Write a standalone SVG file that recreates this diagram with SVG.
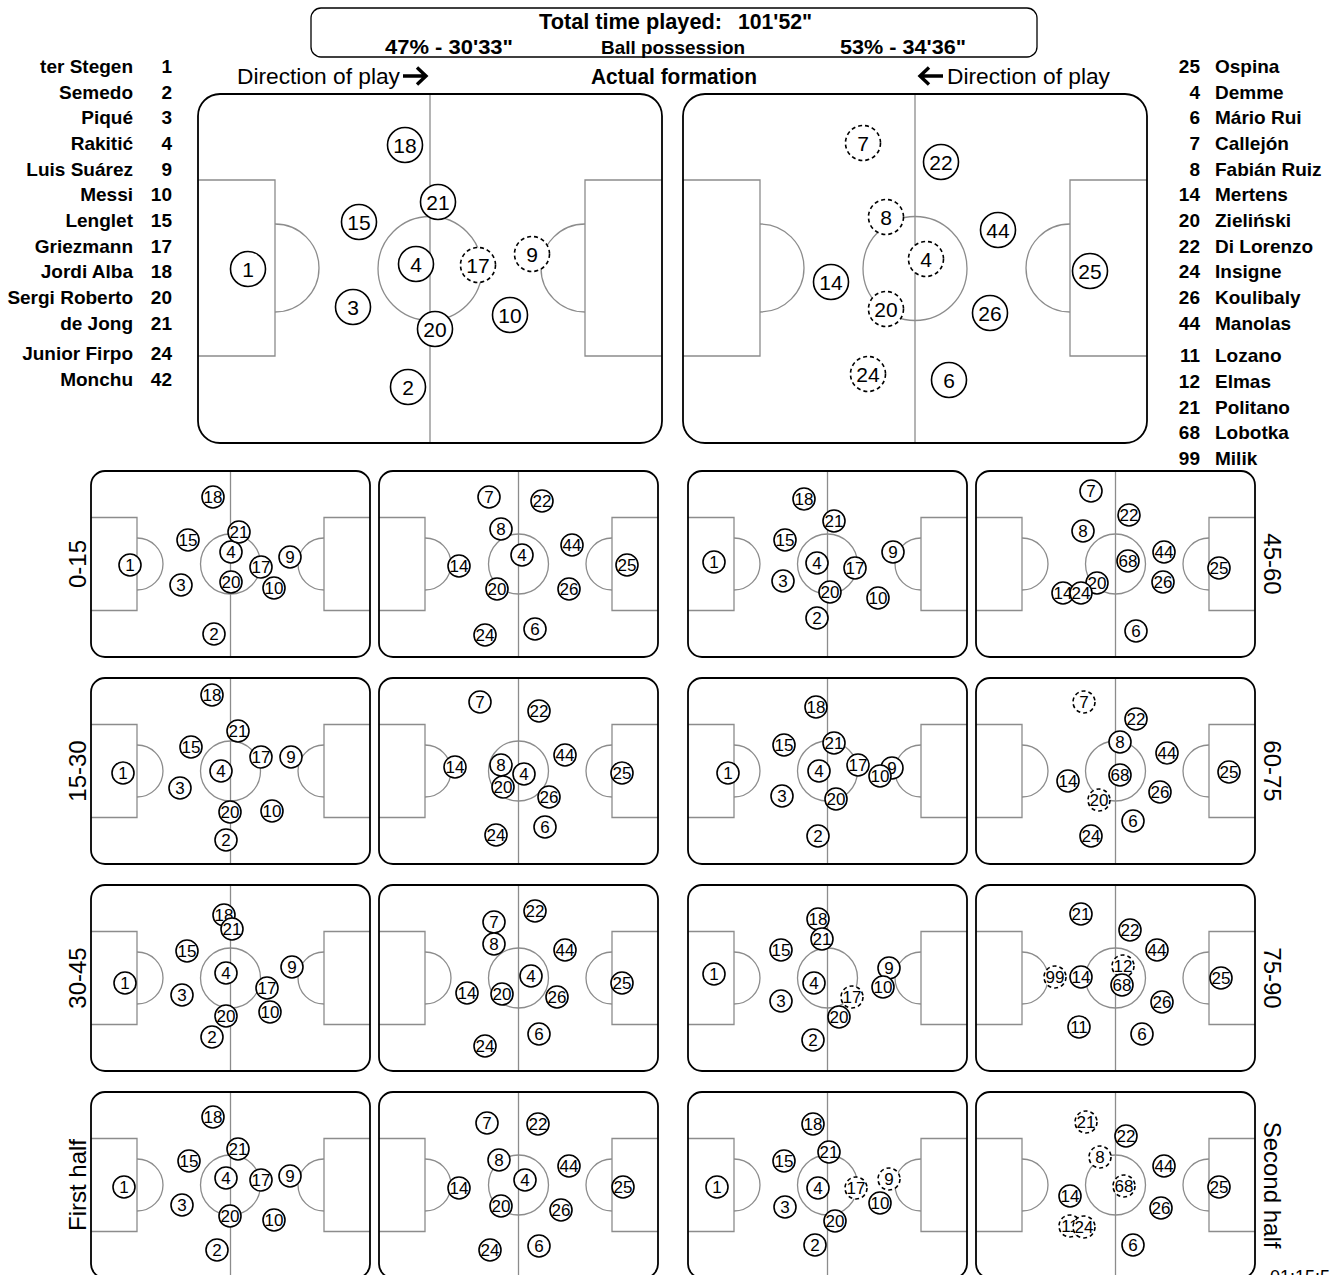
<svg xmlns="http://www.w3.org/2000/svg" xmlns:xlink="http://www.w3.org/1999/xlink" width="1338" height="1275" viewBox="0 0 1338 1275">
<style>
text{font-family:"Liberation Sans",Arial,sans-serif;fill:#000}
.ln{fill:none;stroke:#8c8c8c;stroke-width:1.3}
.border{fill:none;stroke:#000;stroke-width:1.8}
.pl{fill:#fff;stroke:#000;stroke-width:1.6}
.d{stroke-dasharray:4 3}
.nb{font-size:21px;text-anchor:middle}
.ns{font-size:17px;text-anchor:middle}
.lst{font-size:19px;font-weight:bold}
.end{text-anchor:end}
.hd{font-weight:bold}
.rot{font-size:24px;text-anchor:middle}
.arr{fill:none;stroke:#000;stroke-width:3.4}
</style>
<defs>
<g id="bigPitch">
<rect width="464" height="349" rx="22" fill="#fff"/>
<line x1="232" y1="0" x2="232" y2="349" class="ln"/>
<circle cx="232" cy="174.5" r="52" class="ln"/>
<path class="ln" d="M0,86H77V262H0M464,86H387V262H464"/>
<path class="ln" d="M77,130A44,44 0 0 1 77,218M387,130A44,44 0 0 0 387,218"/>
<rect width="464" height="349" rx="22" class="border"/>
</g>
<g id="smallPitch">
<rect width="279" height="186" rx="14" fill="#fff"/>
<line x1="139.5" y1="0" x2="139.5" y2="186" class="ln"/>
<circle cx="139.5" cy="93" r="30" class="ln"/>
<path class="ln" d="M0,46.5H46V139.5H0M279,46.5H233V139.5H279"/>
<path class="ln" d="M46,67A26,26 0 0 1 46,119M233,67A26,26 0 0 0 233,119"/>
<rect width="279" height="186" rx="14" class="border"/>
</g>
</defs>
<rect width="1338" height="1275" fill="#fff"/>

<g id="header">
<rect x="311" y="8" width="726" height="49" rx="10" fill="#fff" stroke="#000" stroke-width="1.3"/>
<text class="hd" x="539" y="29" font-size="22" textLength="183" lengthAdjust="spacingAndGlyphs">Total time played:</text>
<text class="hd" x="738" y="29" font-size="22" textLength="74" lengthAdjust="spacingAndGlyphs">101'52"</text>
<text class="hd" x="385" y="54" font-size="21" textLength="128" lengthAdjust="spacingAndGlyphs">47% - 30'33"</text>
<text class="hd" x="601" y="54" font-size="19" textLength="144" lengthAdjust="spacingAndGlyphs">Ball possession</text>
<text class="hd" x="840" y="54" font-size="21" textLength="126" lengthAdjust="spacingAndGlyphs">53% - 34'36"</text>
</g>

<g id="titles">
<text x="237" y="84" font-size="22" textLength="163" lengthAdjust="spacingAndGlyphs">Direction of play</text>
<path class="arr" d="M403,76H425M417,67.5L426,76L417,84.5"/>
<text class="hd" x="591" y="84" font-size="22" textLength="166" lengthAdjust="spacingAndGlyphs">Actual formation</text>
<path class="arr" d="M943,76H921M929,67.5L920,76L929,84.5"/>
<text x="947" y="84" font-size="22" textLength="163" lengthAdjust="spacingAndGlyphs">Direction of play</text>
</g>

<g id="list-left" class="lst">
<text class="end" x="133" y="73">ter Stegen</text><text class="end" x="172" y="73">1</text>
<text class="end" x="133" y="98.7">Semedo</text><text class="end" x="172" y="98.7">2</text>
<text class="end" x="133" y="124.4">Piqué</text><text class="end" x="172" y="124.4">3</text>
<text class="end" x="133" y="150">Rakitić</text><text class="end" x="172" y="150">4</text>
<text class="end" x="133" y="175.7">Luis Suárez</text><text class="end" x="172" y="175.7">9</text>
<text class="end" x="133" y="201.4">Messi</text><text class="end" x="172" y="201.4">10</text>
<text class="end" x="133" y="227">Lenglet</text><text class="end" x="172" y="227">15</text>
<text class="end" x="133" y="252.7">Griezmann</text><text class="end" x="172" y="252.7">17</text>
<text class="end" x="133" y="278.4">Jordi Alba</text><text class="end" x="172" y="278.4">18</text>
<text class="end" x="133" y="304">Sergi Roberto</text><text class="end" x="172" y="304">20</text>
<text class="end" x="133" y="329.8">de Jong</text><text class="end" x="172" y="329.8">21</text>
<text class="end" x="133" y="360">Junior Firpo</text><text class="end" x="172" y="360">24</text>
<text class="end" x="133" y="386">Monchu</text><text class="end" x="172" y="386">42</text>
</g>

<g id="list-right" class="lst">
<text class="end" x="1200" y="73">25</text><text x="1215" y="73">Ospina</text>
<text class="end" x="1200" y="98.7">4</text><text x="1215" y="98.7">Demme</text>
<text class="end" x="1200" y="124.4">6</text><text x="1215" y="124.4">Mário Rui</text>
<text class="end" x="1200" y="150">7</text><text x="1215" y="150">Callejón</text>
<text class="end" x="1200" y="175.7">8</text><text x="1215" y="175.7">Fabián Ruiz</text>
<text class="end" x="1200" y="201.4">14</text><text x="1215" y="201.4">Mertens</text>
<text class="end" x="1200" y="227">20</text><text x="1215" y="227">Zieliński</text>
<text class="end" x="1200" y="252.7">22</text><text x="1215" y="252.7">Di Lorenzo</text>
<text class="end" x="1200" y="278.4">24</text><text x="1215" y="278.4">Insigne</text>
<text class="end" x="1200" y="304">26</text><text x="1215" y="304">Koulibaly</text>
<text class="end" x="1200" y="329.8">44</text><text x="1215" y="329.8">Manolas</text>
<text class="end" x="1200" y="362">11</text><text x="1215" y="362">Lozano</text>
<text class="end" x="1200" y="388">12</text><text x="1215" y="388">Elmas</text>
<text class="end" x="1200" y="414">21</text><text x="1215" y="414">Politano</text>
<text class="end" x="1200" y="439">68</text><text x="1215" y="439">Lobotka</text>
<text class="end" x="1200" y="465">99</text><text x="1215" y="465">Milik</text>
</g>

<g id="side-labels">
<text class="rot" transform="translate(86,564) rotate(-90)">0-15</text>
<text class="rot" transform="translate(86,771) rotate(-90)">15-30</text>
<text class="rot" transform="translate(86,978) rotate(-90)">30-45</text>
<text class="rot" transform="translate(86,1185) rotate(-90)">First half</text>
<text class="rot" transform="translate(1264,564) rotate(90)">45-60</text>
<text class="rot" transform="translate(1264,771) rotate(90)">60-75</text>
<text class="rot" transform="translate(1264,978) rotate(90)">75-90</text>
<text class="rot" transform="translate(1264,1185) rotate(90)" font-size="25">Second half</text>
<text x="1270" y="1283" font-size="18">01:15:5</text>
</g>

<g id="big-left">
<use xlink:href="#bigPitch" x="198" y="94"/>
<g id="BL-1"><circle class="pl" cx="248" cy="269" r="17.5"/><text class="nb" x="248" y="276.5">1</text></g>
<g id="BL-2"><circle class="pl" cx="408" cy="387" r="17.5"/><text class="nb" x="408" y="394.5">2</text></g>
<g id="BL-3"><circle class="pl" cx="353" cy="307" r="17.5"/><text class="nb" x="353" y="314.5">3</text></g>
<g id="BL-4"><circle class="pl" cx="416" cy="264" r="17.5"/><text class="nb" x="416" y="271.5">4</text></g>
<g id="BL-9"><circle class="pl d" cx="532" cy="254" r="17.5"/><text class="nb" x="532" y="261.5">9</text></g>
<g id="BL-10"><circle class="pl" cx="510" cy="315" r="17.5"/><text class="nb" x="510" y="322.5">10</text></g>
<g id="BL-15"><circle class="pl" cx="359" cy="222" r="17.5"/><text class="nb" x="359" y="229.5">15</text></g>
<g id="BL-17"><circle class="pl d" cx="478" cy="265" r="17.5"/><text class="nb" x="478" y="272.5">17</text></g>
<g id="BL-18"><circle class="pl" cx="405" cy="145" r="17.5"/><text class="nb" x="405" y="152.5">18</text></g>
<g id="BL-20"><circle class="pl" cx="435" cy="329" r="17.5"/><text class="nb" x="435" y="336.5">20</text></g>
<g id="BL-21"><circle class="pl" cx="438" cy="202" r="17.5"/><text class="nb" x="438" y="209.5">21</text></g>
</g>

<g id="big-right">
<use xlink:href="#bigPitch" x="683" y="94"/>
<g id="BR-4"><circle class="pl d" cx="926" cy="259" r="17.5"/><text class="nb" x="926" y="266.5">4</text></g>
<g id="BR-6"><circle class="pl" cx="949" cy="380" r="17.5"/><text class="nb" x="949" y="387.5">6</text></g>
<g id="BR-7"><circle class="pl d" cx="863" cy="143" r="17.5"/><text class="nb" x="863" y="150.5">7</text></g>
<g id="BR-8"><circle class="pl d" cx="886" cy="217" r="17.5"/><text class="nb" x="886" y="224.5">8</text></g>
<g id="BR-14"><circle class="pl" cx="831" cy="282" r="17.5"/><text class="nb" x="831" y="289.5">14</text></g>
<g id="BR-20"><circle class="pl d" cx="886" cy="309" r="17.5"/><text class="nb" x="886" y="316.5">20</text></g>
<g id="BR-22"><circle class="pl" cx="941" cy="162" r="17.5"/><text class="nb" x="941" y="169.5">22</text></g>
<g id="BR-24"><circle class="pl d" cx="868" cy="374" r="17.5"/><text class="nb" x="868" y="381.5">24</text></g>
<g id="BR-25"><circle class="pl" cx="1090" cy="271" r="17.5"/><text class="nb" x="1090" y="278.5">25</text></g>
<g id="BR-26"><circle class="pl" cx="990" cy="313" r="17.5"/><text class="nb" x="990" y="320.5">26</text></g>
<g id="BR-44"><circle class="pl" cx="998" cy="230" r="17.5"/><text class="nb" x="998" y="237.5">44</text></g>
</g>

<g id="r1a">
<use xlink:href="#smallPitch" x="91" y="471"/>
<g id="r1a-1"><circle class="pl" cx="130" cy="565" r="11"/><text class="ns" x="130" y="571">1</text></g>
<g id="r1a-2"><circle class="pl" cx="214" cy="634" r="11"/><text class="ns" x="214" y="640">2</text></g>
<g id="r1a-3"><circle class="pl" cx="181" cy="585" r="11"/><text class="ns" x="181" y="591">3</text></g>
<g id="r1a-4"><circle class="pl" cx="231" cy="552" r="11"/><text class="ns" x="231" y="558">4</text></g>
<g id="r1a-9"><circle class="pl" cx="290" cy="557" r="11"/><text class="ns" x="290" y="563">9</text></g>
<g id="r1a-10"><circle class="pl" cx="274" cy="588" r="11"/><text class="ns" x="274" y="594">10</text></g>
<g id="r1a-15"><circle class="pl" cx="188" cy="540" r="11"/><text class="ns" x="188" y="546">15</text></g>
<g id="r1a-17"><circle class="pl" cx="261" cy="567" r="11"/><text class="ns" x="261" y="573">17</text></g>
<g id="r1a-18"><circle class="pl" cx="213" cy="497" r="11"/><text class="ns" x="213" y="503">18</text></g>
<g id="r1a-20"><circle class="pl" cx="231" cy="582" r="11"/><text class="ns" x="231" y="588">20</text></g>
<g id="r1a-21"><circle class="pl" cx="239" cy="532" r="11"/><text class="ns" x="239" y="538">21</text></g>
</g>

<g id="r1b">
<use xlink:href="#smallPitch" x="379" y="471"/>
<g id="r1b-4"><circle class="pl" cx="522" cy="555" r="11"/><text class="ns" x="522" y="561">4</text></g>
<g id="r1b-6"><circle class="pl" cx="535" cy="629" r="11"/><text class="ns" x="535" y="635">6</text></g>
<g id="r1b-7"><circle class="pl" cx="489" cy="497" r="11"/><text class="ns" x="489" y="503">7</text></g>
<g id="r1b-8"><circle class="pl" cx="501" cy="529" r="11"/><text class="ns" x="501" y="535">8</text></g>
<g id="r1b-14"><circle class="pl" cx="459" cy="566" r="11"/><text class="ns" x="459" y="572">14</text></g>
<g id="r1b-20"><circle class="pl" cx="497" cy="589" r="11"/><text class="ns" x="497" y="595">20</text></g>
<g id="r1b-22"><circle class="pl" cx="542" cy="501" r="11"/><text class="ns" x="542" y="507">22</text></g>
<g id="r1b-24"><circle class="pl" cx="485" cy="635" r="11"/><text class="ns" x="485" y="641">24</text></g>
<g id="r1b-25"><circle class="pl" cx="627" cy="565" r="11"/><text class="ns" x="627" y="571">25</text></g>
<g id="r1b-26"><circle class="pl" cx="569" cy="589" r="11"/><text class="ns" x="569" y="595">26</text></g>
<g id="r1b-44"><circle class="pl" cx="572" cy="545" r="11"/><text class="ns" x="572" y="551">44</text></g>
</g>

<g id="r1c">
<use xlink:href="#smallPitch" x="688" y="471"/>
<g id="r1c-1"><circle class="pl" cx="714" cy="562" r="11"/><text class="ns" x="714" y="568">1</text></g>
<g id="r1c-2"><circle class="pl" cx="817" cy="618" r="11"/><text class="ns" x="817" y="624">2</text></g>
<g id="r1c-3"><circle class="pl" cx="783" cy="581" r="11"/><text class="ns" x="783" y="587">3</text></g>
<g id="r1c-4"><circle class="pl" cx="817" cy="563" r="11"/><text class="ns" x="817" y="569">4</text></g>
<g id="r1c-9"><circle class="pl" cx="893" cy="552" r="11"/><text class="ns" x="893" y="558">9</text></g>
<g id="r1c-10"><circle class="pl" cx="878" cy="598" r="11"/><text class="ns" x="878" y="604">10</text></g>
<g id="r1c-15"><circle class="pl" cx="785" cy="540" r="11"/><text class="ns" x="785" y="546">15</text></g>
<g id="r1c-17"><circle class="pl" cx="855" cy="568" r="11"/><text class="ns" x="855" y="574">17</text></g>
<g id="r1c-18"><circle class="pl" cx="804" cy="499" r="11"/><text class="ns" x="804" y="505">18</text></g>
<g id="r1c-20"><circle class="pl" cx="830" cy="592" r="11"/><text class="ns" x="830" y="598">20</text></g>
<g id="r1c-21"><circle class="pl" cx="834" cy="521" r="11"/><text class="ns" x="834" y="527">21</text></g>
</g>

<g id="r1d">
<use xlink:href="#smallPitch" x="976" y="471"/>
<g id="r1d-6"><circle class="pl" cx="1136" cy="631" r="11"/><text class="ns" x="1136" y="637">6</text></g>
<g id="r1d-7"><circle class="pl" cx="1091" cy="491" r="11"/><text class="ns" x="1091" y="497">7</text></g>
<g id="r1d-8"><circle class="pl" cx="1083" cy="531" r="11"/><text class="ns" x="1083" y="537">8</text></g>
<g id="r1d-14"><circle class="pl" cx="1063" cy="593" r="11"/><text class="ns" x="1063" y="599">14</text></g>
<g id="r1d-20"><circle class="pl" cx="1097" cy="583" r="11"/><text class="ns" x="1097" y="589">20</text></g>
<g id="r1d-22"><circle class="pl" cx="1129" cy="515" r="11"/><text class="ns" x="1129" y="521">22</text></g>
<g id="r1d-24"><circle class="pl" cx="1081" cy="593" r="11"/><text class="ns" x="1081" y="599">24</text></g>
<g id="r1d-25"><circle class="pl" cx="1219" cy="568" r="11"/><text class="ns" x="1219" y="574">25</text></g>
<g id="r1d-26"><circle class="pl" cx="1163" cy="582" r="11"/><text class="ns" x="1163" y="588">26</text></g>
<g id="r1d-44"><circle class="pl" cx="1164" cy="552" r="11"/><text class="ns" x="1164" y="558">44</text></g>
<g id="r1d-68"><circle class="pl" cx="1128" cy="561" r="11"/><text class="ns" x="1128" y="567">68</text></g>
</g>

<g id="r2a">
<use xlink:href="#smallPitch" x="91" y="678"/>
<g id="r2a-1"><circle class="pl" cx="123" cy="773" r="11"/><text class="ns" x="123" y="779">1</text></g>
<g id="r2a-2"><circle class="pl" cx="226" cy="840" r="11"/><text class="ns" x="226" y="846">2</text></g>
<g id="r2a-3"><circle class="pl" cx="180" cy="788" r="11"/><text class="ns" x="180" y="794">3</text></g>
<g id="r2a-4"><circle class="pl" cx="221" cy="771" r="11"/><text class="ns" x="221" y="777">4</text></g>
<g id="r2a-9"><circle class="pl" cx="291" cy="757" r="11"/><text class="ns" x="291" y="763">9</text></g>
<g id="r2a-10"><circle class="pl" cx="272" cy="811" r="11"/><text class="ns" x="272" y="817">10</text></g>
<g id="r2a-15"><circle class="pl" cx="191" cy="747" r="11"/><text class="ns" x="191" y="753">15</text></g>
<g id="r2a-17"><circle class="pl" cx="261" cy="757" r="11"/><text class="ns" x="261" y="763">17</text></g>
<g id="r2a-18"><circle class="pl" cx="212" cy="695" r="11"/><text class="ns" x="212" y="701">18</text></g>
<g id="r2a-20"><circle class="pl" cx="230" cy="812" r="11"/><text class="ns" x="230" y="818">20</text></g>
<g id="r2a-21"><circle class="pl" cx="238" cy="731" r="11"/><text class="ns" x="238" y="737">21</text></g>
</g>

<g id="r2b">
<use xlink:href="#smallPitch" x="379" y="678"/>
<g id="r2b-4"><circle class="pl" cx="524" cy="774" r="11"/><text class="ns" x="524" y="780">4</text></g>
<g id="r2b-6"><circle class="pl" cx="545" cy="827" r="11"/><text class="ns" x="545" y="833">6</text></g>
<g id="r2b-7"><circle class="pl" cx="480" cy="702" r="11"/><text class="ns" x="480" y="708">7</text></g>
<g id="r2b-8"><circle class="pl" cx="501" cy="765" r="11"/><text class="ns" x="501" y="771">8</text></g>
<g id="r2b-14"><circle class="pl" cx="455" cy="767" r="11"/><text class="ns" x="455" y="773">14</text></g>
<g id="r2b-20"><circle class="pl" cx="503" cy="787" r="11"/><text class="ns" x="503" y="793">20</text></g>
<g id="r2b-22"><circle class="pl" cx="539" cy="711" r="11"/><text class="ns" x="539" y="717">22</text></g>
<g id="r2b-24"><circle class="pl" cx="496" cy="835" r="11"/><text class="ns" x="496" y="841">24</text></g>
<g id="r2b-25"><circle class="pl" cx="622" cy="773" r="11"/><text class="ns" x="622" y="779">25</text></g>
<g id="r2b-26"><circle class="pl" cx="549" cy="797" r="11"/><text class="ns" x="549" y="803">26</text></g>
<g id="r2b-44"><circle class="pl" cx="565" cy="755" r="11"/><text class="ns" x="565" y="761">44</text></g>
</g>

<g id="r2c">
<use xlink:href="#smallPitch" x="688" y="678"/>
<g id="r2c-1"><circle class="pl" cx="728" cy="773" r="11"/><text class="ns" x="728" y="779">1</text></g>
<g id="r2c-2"><circle class="pl" cx="818" cy="836" r="11"/><text class="ns" x="818" y="842">2</text></g>
<g id="r2c-3"><circle class="pl" cx="782" cy="796" r="11"/><text class="ns" x="782" y="802">3</text></g>
<g id="r2c-4"><circle class="pl" cx="819" cy="771" r="11"/><text class="ns" x="819" y="777">4</text></g>
<g id="r2c-9"><circle class="pl" cx="892" cy="768" r="11"/><text class="ns" x="892" y="774">9</text></g>
<g id="r2c-10"><circle class="pl" cx="880" cy="776" r="11"/><text class="ns" x="880" y="782">10</text></g>
<g id="r2c-15"><circle class="pl" cx="784" cy="745" r="11"/><text class="ns" x="784" y="751">15</text></g>
<g id="r2c-17"><circle class="pl" cx="858" cy="765" r="11"/><text class="ns" x="858" y="771">17</text></g>
<g id="r2c-18"><circle class="pl" cx="816" cy="707" r="11"/><text class="ns" x="816" y="713">18</text></g>
<g id="r2c-20"><circle class="pl" cx="836" cy="799" r="11"/><text class="ns" x="836" y="805">20</text></g>
<g id="r2c-21"><circle class="pl" cx="834" cy="743" r="11"/><text class="ns" x="834" y="749">21</text></g>
</g>

<g id="r2d">
<use xlink:href="#smallPitch" x="976" y="678"/>
<g id="r2d-6"><circle class="pl" cx="1133" cy="821" r="11"/><text class="ns" x="1133" y="827">6</text></g>
<g id="r2d-7"><circle class="pl d" cx="1084" cy="702" r="11"/><text class="ns" x="1084" y="708">7</text></g>
<g id="r2d-8"><circle class="pl" cx="1120" cy="742" r="11"/><text class="ns" x="1120" y="748">8</text></g>
<g id="r2d-14"><circle class="pl" cx="1068" cy="781" r="11"/><text class="ns" x="1068" y="787">14</text></g>
<g id="r2d-20"><circle class="pl d" cx="1099" cy="800" r="11"/><text class="ns" x="1099" y="806">20</text></g>
<g id="r2d-22"><circle class="pl" cx="1136" cy="719" r="11"/><text class="ns" x="1136" y="725">22</text></g>
<g id="r2d-24"><circle class="pl" cx="1091" cy="836" r="11"/><text class="ns" x="1091" y="842">24</text></g>
<g id="r2d-25"><circle class="pl" cx="1229" cy="772" r="11"/><text class="ns" x="1229" y="778">25</text></g>
<g id="r2d-26"><circle class="pl" cx="1160" cy="792" r="11"/><text class="ns" x="1160" y="798">26</text></g>
<g id="r2d-44"><circle class="pl" cx="1167" cy="753" r="11"/><text class="ns" x="1167" y="759">44</text></g>
<g id="r2d-68"><circle class="pl" cx="1120" cy="775" r="11"/><text class="ns" x="1120" y="781">68</text></g>
</g>

<g id="r3a">
<use xlink:href="#smallPitch" x="91" y="885"/>
<g id="r3a-1"><circle class="pl" cx="125" cy="983" r="11"/><text class="ns" x="125" y="989">1</text></g>
<g id="r3a-2"><circle class="pl" cx="212" cy="1037" r="11"/><text class="ns" x="212" y="1043">2</text></g>
<g id="r3a-3"><circle class="pl" cx="182" cy="995" r="11"/><text class="ns" x="182" y="1001">3</text></g>
<g id="r3a-4"><circle class="pl" cx="226" cy="973" r="11"/><text class="ns" x="226" y="979">4</text></g>
<g id="r3a-9"><circle class="pl" cx="292" cy="967" r="11"/><text class="ns" x="292" y="973">9</text></g>
<g id="r3a-10"><circle class="pl" cx="270" cy="1012" r="11"/><text class="ns" x="270" y="1018">10</text></g>
<g id="r3a-15"><circle class="pl" cx="187" cy="951" r="11"/><text class="ns" x="187" y="957">15</text></g>
<g id="r3a-17"><circle class="pl" cx="267" cy="988" r="11"/><text class="ns" x="267" y="994">17</text></g>
<g id="r3a-18"><circle class="pl" cx="224" cy="915" r="11"/><text class="ns" x="224" y="921">18</text></g>
<g id="r3a-20"><circle class="pl" cx="226" cy="1016" r="11"/><text class="ns" x="226" y="1022">20</text></g>
<g id="r3a-21"><circle class="pl" cx="232" cy="929" r="11"/><text class="ns" x="232" y="935">21</text></g>
</g>

<g id="r3b">
<use xlink:href="#smallPitch" x="379" y="885"/>
<g id="r3b-4"><circle class="pl" cx="531" cy="976" r="11"/><text class="ns" x="531" y="982">4</text></g>
<g id="r3b-6"><circle class="pl" cx="539" cy="1034" r="11"/><text class="ns" x="539" y="1040">6</text></g>
<g id="r3b-7"><circle class="pl" cx="494" cy="922" r="11"/><text class="ns" x="494" y="928">7</text></g>
<g id="r3b-8"><circle class="pl" cx="494" cy="944" r="11"/><text class="ns" x="494" y="950">8</text></g>
<g id="r3b-14"><circle class="pl" cx="467" cy="993" r="11"/><text class="ns" x="467" y="999">14</text></g>
<g id="r3b-20"><circle class="pl" cx="502" cy="994" r="11"/><text class="ns" x="502" y="1000">20</text></g>
<g id="r3b-22"><circle class="pl" cx="535" cy="911" r="11"/><text class="ns" x="535" y="917">22</text></g>
<g id="r3b-24"><circle class="pl" cx="485" cy="1046" r="11"/><text class="ns" x="485" y="1052">24</text></g>
<g id="r3b-25"><circle class="pl" cx="622" cy="983" r="11"/><text class="ns" x="622" y="989">25</text></g>
<g id="r3b-26"><circle class="pl" cx="557" cy="997" r="11"/><text class="ns" x="557" y="1003">26</text></g>
<g id="r3b-44"><circle class="pl" cx="565" cy="950" r="11"/><text class="ns" x="565" y="956">44</text></g>
</g>

<g id="r3c">
<use xlink:href="#smallPitch" x="688" y="885"/>
<g id="r3c-1"><circle class="pl" cx="714" cy="974" r="11"/><text class="ns" x="714" y="980">1</text></g>
<g id="r3c-2"><circle class="pl" cx="813" cy="1040" r="11"/><text class="ns" x="813" y="1046">2</text></g>
<g id="r3c-3"><circle class="pl" cx="781" cy="1001" r="11"/><text class="ns" x="781" y="1007">3</text></g>
<g id="r3c-4"><circle class="pl" cx="814" cy="983" r="11"/><text class="ns" x="814" y="989">4</text></g>
<g id="r3c-9"><circle class="pl" cx="889" cy="968" r="11"/><text class="ns" x="889" y="974">9</text></g>
<g id="r3c-10"><circle class="pl" cx="883" cy="987" r="11"/><text class="ns" x="883" y="993">10</text></g>
<g id="r3c-15"><circle class="pl" cx="781" cy="950" r="11"/><text class="ns" x="781" y="956">15</text></g>
<g id="r3c-17"><circle class="pl d" cx="852" cy="997" r="11"/><text class="ns" x="852" y="1003">17</text></g>
<g id="r3c-18"><circle class="pl" cx="818" cy="919" r="11"/><text class="ns" x="818" y="925">18</text></g>
<g id="r3c-20"><circle class="pl" cx="839" cy="1017" r="11"/><text class="ns" x="839" y="1023">20</text></g>
<g id="r3c-21"><circle class="pl" cx="822" cy="939" r="11"/><text class="ns" x="822" y="945">21</text></g>
</g>

<g id="r3d">
<use xlink:href="#smallPitch" x="976" y="885"/>
<g id="r3d-6"><circle class="pl" cx="1142" cy="1034" r="11"/><text class="ns" x="1142" y="1040">6</text></g>
<g id="r3d-11"><circle class="pl" cx="1079" cy="1027" r="11"/><text class="ns" x="1079" y="1033">11</text></g>
<g id="r3d-12"><circle class="pl d" cx="1123" cy="966" r="11"/><text class="ns" x="1123" y="972">12</text></g>
<g id="r3d-14"><circle class="pl" cx="1081" cy="977" r="11"/><text class="ns" x="1081" y="983">14</text></g>
<g id="r3d-21"><circle class="pl" cx="1081" cy="914" r="11"/><text class="ns" x="1081" y="920">21</text></g>
<g id="r3d-22"><circle class="pl" cx="1130" cy="930" r="11"/><text class="ns" x="1130" y="936">22</text></g>
<g id="r3d-25"><circle class="pl" cx="1221" cy="978" r="11"/><text class="ns" x="1221" y="984">25</text></g>
<g id="r3d-26"><circle class="pl" cx="1162" cy="1002" r="11"/><text class="ns" x="1162" y="1008">26</text></g>
<g id="r3d-44"><circle class="pl" cx="1157" cy="950" r="11"/><text class="ns" x="1157" y="956">44</text></g>
<g id="r3d-68"><circle class="pl" cx="1122" cy="985" r="11"/><text class="ns" x="1122" y="991">68</text></g>
<g id="r3d-99"><circle class="pl d" cx="1055" cy="977" r="11"/><text class="ns" x="1055" y="983">99</text></g>
</g>

<g id="r4a">
<use xlink:href="#smallPitch" x="91" y="1092"/>
<g id="r4a-1"><circle class="pl" cx="124" cy="1187" r="11"/><text class="ns" x="124" y="1193">1</text></g>
<g id="r4a-2"><circle class="pl" cx="217" cy="1250" r="11"/><text class="ns" x="217" y="1256">2</text></g>
<g id="r4a-3"><circle class="pl" cx="182" cy="1205" r="11"/><text class="ns" x="182" y="1211">3</text></g>
<g id="r4a-4"><circle class="pl" cx="226" cy="1178" r="11"/><text class="ns" x="226" y="1184">4</text></g>
<g id="r4a-9"><circle class="pl" cx="290" cy="1176" r="11"/><text class="ns" x="290" y="1182">9</text></g>
<g id="r4a-10"><circle class="pl" cx="274" cy="1220" r="11"/><text class="ns" x="274" y="1226">10</text></g>
<g id="r4a-15"><circle class="pl" cx="189" cy="1161" r="11"/><text class="ns" x="189" y="1167">15</text></g>
<g id="r4a-17"><circle class="pl" cx="261" cy="1180" r="11"/><text class="ns" x="261" y="1186">17</text></g>
<g id="r4a-18"><circle class="pl" cx="213" cy="1117" r="11"/><text class="ns" x="213" y="1123">18</text></g>
<g id="r4a-20"><circle class="pl" cx="230" cy="1216" r="11"/><text class="ns" x="230" y="1222">20</text></g>
<g id="r4a-21"><circle class="pl" cx="238" cy="1149" r="11"/><text class="ns" x="238" y="1155">21</text></g>
</g>

<g id="r4b">
<use xlink:href="#smallPitch" x="379" y="1092"/>
<g id="r4b-4"><circle class="pl" cx="525" cy="1180" r="11"/><text class="ns" x="525" y="1186">4</text></g>
<g id="r4b-6"><circle class="pl" cx="539" cy="1246" r="11"/><text class="ns" x="539" y="1252">6</text></g>
<g id="r4b-7"><circle class="pl" cx="487" cy="1123" r="11"/><text class="ns" x="487" y="1129">7</text></g>
<g id="r4b-8"><circle class="pl" cx="499" cy="1160" r="11"/><text class="ns" x="499" y="1166">8</text></g>
<g id="r4b-14"><circle class="pl" cx="459" cy="1188" r="11"/><text class="ns" x="459" y="1194">14</text></g>
<g id="r4b-20"><circle class="pl" cx="501" cy="1206" r="11"/><text class="ns" x="501" y="1212">20</text></g>
<g id="r4b-22"><circle class="pl" cx="538" cy="1124" r="11"/><text class="ns" x="538" y="1130">22</text></g>
<g id="r4b-24"><circle class="pl" cx="490" cy="1250" r="11"/><text class="ns" x="490" y="1256">24</text></g>
<g id="r4b-25"><circle class="pl" cx="623" cy="1187" r="11"/><text class="ns" x="623" y="1193">25</text></g>
<g id="r4b-26"><circle class="pl" cx="561" cy="1210" r="11"/><text class="ns" x="561" y="1216">26</text></g>
<g id="r4b-44"><circle class="pl" cx="569" cy="1166" r="11"/><text class="ns" x="569" y="1172">44</text></g>
</g>

<g id="r4c">
<use xlink:href="#smallPitch" x="688" y="1092"/>
<g id="r4c-1"><circle class="pl" cx="717" cy="1187" r="11"/><text class="ns" x="717" y="1193">1</text></g>
<g id="r4c-2"><circle class="pl" cx="815" cy="1245" r="11"/><text class="ns" x="815" y="1251">2</text></g>
<g id="r4c-3"><circle class="pl" cx="785" cy="1207" r="11"/><text class="ns" x="785" y="1213">3</text></g>
<g id="r4c-4"><circle class="pl" cx="818" cy="1188" r="11"/><text class="ns" x="818" y="1194">4</text></g>
<g id="r4c-9"><circle class="pl d" cx="889" cy="1179" r="11"/><text class="ns" x="889" y="1185">9</text></g>
<g id="r4c-10"><circle class="pl" cx="880" cy="1203" r="11"/><text class="ns" x="880" y="1209">10</text></g>
<g id="r4c-15"><circle class="pl" cx="784" cy="1161" r="11"/><text class="ns" x="784" y="1167">15</text></g>
<g id="r4c-17"><circle class="pl d" cx="856" cy="1188" r="11"/><text class="ns" x="856" y="1194">17</text></g>
<g id="r4c-18"><circle class="pl" cx="813" cy="1124" r="11"/><text class="ns" x="813" y="1130">18</text></g>
<g id="r4c-20"><circle class="pl" cx="835" cy="1221" r="11"/><text class="ns" x="835" y="1227">20</text></g>
<g id="r4c-21"><circle class="pl" cx="829" cy="1152" r="11"/><text class="ns" x="829" y="1158">21</text></g>
</g>

<g id="r4d">
<use xlink:href="#smallPitch" x="976" y="1092"/>
<g id="r4d-6"><circle class="pl" cx="1133" cy="1245" r="11"/><text class="ns" x="1133" y="1251">6</text></g>
<g id="r4d-8"><circle class="pl d" cx="1100" cy="1157" r="11"/><text class="ns" x="1100" y="1163">8</text></g>
<g id="r4d-11"><circle class="pl d" cx="1070" cy="1226" r="11"/><text class="ns" x="1070" y="1232">11</text></g>
<g id="r4d-14"><circle class="pl" cx="1070" cy="1196" r="11"/><text class="ns" x="1070" y="1202">14</text></g>
<g id="r4d-21"><circle class="pl d" cx="1086" cy="1122" r="11"/><text class="ns" x="1086" y="1128">21</text></g>
<g id="r4d-22"><circle class="pl" cx="1126" cy="1136" r="11"/><text class="ns" x="1126" y="1142">22</text></g>
<g id="r4d-24"><circle class="pl d" cx="1084" cy="1227" r="11"/><text class="ns" x="1084" y="1233">24</text></g>
<g id="r4d-25"><circle class="pl" cx="1219" cy="1187" r="11"/><text class="ns" x="1219" y="1193">25</text></g>
<g id="r4d-26"><circle class="pl" cx="1161" cy="1208" r="11"/><text class="ns" x="1161" y="1214">26</text></g>
<g id="r4d-44"><circle class="pl" cx="1164" cy="1166" r="11"/><text class="ns" x="1164" y="1172">44</text></g>
<g id="r4d-68"><circle class="pl d" cx="1124" cy="1186" r="11"/><text class="ns" x="1124" y="1192">68</text></g>
</g>

<g id="connectors"></g>
</svg>
